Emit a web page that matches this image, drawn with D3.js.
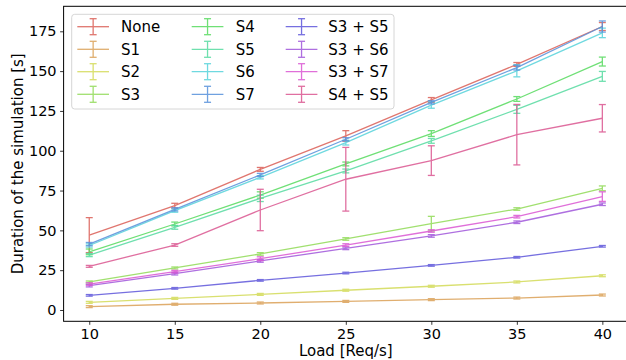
<!DOCTYPE html>
<html>
<head>
<meta charset="utf-8">
<script src="https://cdn.jsdelivr.net/npm/d3@7"></script>
<style>
  html, body { margin: 0; padding: 0; background: #fff; }
  svg { display: block; font-family: "DejaVu Sans", sans-serif; }
</style>
</head>
<body>
<svg id="chart" width="626" height="360"></svg>
<script>
// ---- data ----
const loads = [10, 15, 20, 25, 30, 35, 40];
const seriesNames = ["None", "S1", "S2", "S3", "S4", "S5", "S6", "S7", "S3 + S5", "S3 + S6", "S3 + S7", "S4 + S5"];
const colors = ["#db5f57", "#dba157", "#d3db57", "#91db57", "#57db5f", "#57dba1", "#57d3db", "#5791db", "#5f57db", "#a157db", "#db57d3", "#db5791"];

const meanNone = [47.0, 65.5, 88.3, 109.3, 131.9, 154.2, 178.0];
const meanS1   = [2.1, 3.6, 4.4, 5.4, 6.5, 7.5, 9.4];
const meanS2   = [4.8, 7.3, 9.8, 12.4, 14.9, 17.6, 21.5];
const meanS3   = [17.6, 26.4, 35.2, 44.6, 54.2, 63.4, 76.4];
const meanS4   = [36.5, 54.0, 72.2, 91.7, 110.8, 132.5, 156.0];
const meanS5   = [34.5, 51.9, 70.1, 87.3, 106.2, 126.0, 146.7];
const meanS6   = [40.5, 62.4, 83.3, 105.1, 128.7, 150.2, 174.0];
const meanS7   = [41.4, 63.2, 84.8, 107.2, 130.4, 152.2, 178.0];
const meanS3S5 = [9.2, 13.6, 18.6, 23.2, 28.0, 33.1, 40.0];
const meanS3S6 = [15.3, 22.8, 30.8, 38.7, 46.5, 55.1, 66.4];
const meanS3S7 = [16.3, 24.1, 32.2, 40.8, 49.6, 58.6, 71.2];
const meanS4S5 = [27.4, 40.8, 62.8, 82.1, 93.8, 110.1, 120.4];

const errNone = [11.0, 1.5, 1.2, 3.3, 1.5, 1.2, 2.5];
const errS1   = [0.6, 0.6, 0.6, 0.6, 0.6, 0.6, 0.6];
const errS2   = [0.6, 0.6, 0.6, 0.6, 0.6, 0.6, 0.6];
const errS3   = [0.6, 0.6, 0.8, 0.8, 4.6, 0.8, 1.5];
const errS4   = [1.8, 1.2, 2.0, 1.2, 1.8, 1.5, 2.8];
const errS5   = [1.0, 1.2, 2.0, 1.2, 1.5, 2.5, 3.1];
const errS6   = [1.0, 1.0, 1.0, 1.5, 2.0, 3.8, 3.0];
const errS7   = [1.0, 1.0, 1.0, 1.0, 1.0, 1.5, 3.5];
const errS3S5 = [0.5, 0.5, 0.5, 0.5, 0.5, 0.5, 0.5];
const errS3S6 = [0.8, 0.8, 0.8, 0.8, 0.8, 0.8, 0.8];
const errS3S7 = [0.8, 0.8, 1.2, 0.8, 0.8, 0.8, 3.0];
const errS4S5 = [0.6, 0.8, 13.0, 20.0, 9.3, 19.0, 8.6];

const yTicks = [0, 25, 50, 75, 100, 125, 150, 175];
const xTicks = [10, 15, 20, 25, 30, 35, 40];
const xLabel = "Load [Req/s]";
const yLabel = "Duration of the simulation [s]";

const means = [meanNone, meanS1, meanS2, meanS3, meanS4, meanS5, meanS6, meanS7, meanS3S5, meanS3S6, meanS3S7, meanS4S5];
const errs  = [errNone, errS1, errS2, errS3, errS4, errS5, errS6, errS7, errS3S5, errS3S6, errS3S7, errS4S5];
const series = seriesNames.map((name, i) => ({
  name, color: colors[i],
  pts: loads.map((x, j) => ({ x, y: means[i][j], e: errs[i][j] }))
}));

// ---- layout ----
const svg = d3.select("#chart");
const L = 63.6, R = 628, T = 6.3, B = 321.3;
const x = d3.scaleLinear().domain([8.5, 41.5]).range([L, R]);
const y = d3.scaleLinear().domain([-7.1, 190.7]).range([B, T]);

svg.append("rect").attr("width", 626).attr("height", 360).attr("fill", "#fff");

const plot = svg.append("g");
const ALPHA = 0.85, CAP = 3.5;

series.forEach(s => {
  const g = plot.append("g").attr("opacity", ALPHA);
  g.append("path")
    .datum(s.pts)
    .attr("fill", "none")
    .attr("stroke", s.color)
    .attr("stroke-width", 1.3)
    .attr("d", d3.line().x(d => x(d.x)).y(d => y(d.y)));
  const eb = g.selectAll("g.eb").data(s.pts).enter().append("g");
  eb.append("line")
    .attr("x1", d => x(d.x)).attr("x2", d => x(d.x))
    .attr("y1", d => y(d.y - d.e)).attr("y2", d => y(d.y + d.e))
    .attr("stroke", s.color).attr("stroke-width", 1.3);
  [-1, 1].forEach(sg => {
    eb.append("line")
      .attr("x1", d => x(d.x) - CAP).attr("x2", d => x(d.x) + CAP)
      .attr("y1", d => y(d.y + sg * d.e)).attr("y2", d => y(d.y + sg * d.e))
      .attr("stroke", s.color).attr("stroke-width", 1.3);
  });
});

// ---- axes ----
const xAxis = svg.append("g").attr("transform", `translate(0,${B})`)
  .call(d3.axisBottom(x).tickValues(xTicks).tickSize(3.5).tickPadding(3.5).tickFormat(d3.format("d")));
const yAxis = svg.append("g").attr("transform", `translate(${L},0)`)
  .call(d3.axisLeft(y).tickValues(yTicks).tickSize(3.5).tickPadding(3.5).tickFormat(d3.format("d")));
[xAxis, yAxis].forEach(a => {
  a.select(".domain").remove();
  a.selectAll(".tick line").attr("stroke", "#000").attr("stroke-width", 0.8);
  a.selectAll(".tick text").attr("fill", "#000").style("font-size", "14.5px").style("font-family", "DejaVu Sans");
});
// spines
svg.append("rect").attr("x", L).attr("y", T).attr("width", R - L).attr("height", B - T)
  .attr("fill", "none").attr("stroke", "#000").attr("stroke-width", 1);

svg.append("text").attr("x", (L + R) / 2).attr("y", 356)
  .attr("text-anchor", "middle").style("font-size", "15px").text(xLabel);
svg.append("text").attr("transform", `translate(23.3,${(T + B) / 2}) rotate(-90)`)
  .attr("text-anchor", "middle").style("font-size", "15px").text(yLabel);

// ---- legend ----
const leg = svg.append("g");
leg.append("rect").attr("x", 71.7).attr("y", 14.3).attr("width", 322.3).attr("height", 94.7)
  .attr("rx", 3).attr("fill", "#fff").attr("fill-opacity", 0.8)
  .attr("stroke", "#d6d6d6").attr("stroke-width", 1);
const colX = [77.3, 191.7, 285.7];
const textX = [121, 235.7, 328.3];
const rowY = [26.7, 49.3, 71.7, 94.3];
series.forEach((s, i) => {
  const c = Math.floor(i / 4), r = i % 4;
  const cx = colX[c], cy = rowY[r];
  const g = leg.append("g").attr("opacity", ALPHA);
  g.append("line").attr("x1", cx).attr("x2", cx + 31.7).attr("y1", cy).attr("y2", cy)
    .attr("stroke", s.color).attr("stroke-width", 1.3);
  const mx = cx + 15.85;
  g.append("line").attr("x1", mx).attr("x2", mx).attr("y1", cy - 8).attr("y2", cy + 8)
    .attr("stroke", s.color).attr("stroke-width", 1.3);
  [-8, 8].forEach(o => g.append("line").attr("x1", mx - CAP).attr("x2", mx + CAP)
    .attr("y1", cy + o).attr("y2", cy + o).attr("stroke", s.color).attr("stroke-width", 1.3));
  leg.append("text").attr("x", textX[c]).attr("y", cy + 5.6)
    .style("font-size", "15px").attr("fill", "#000").text(s.name);
});
</script>
</body>
</html>
